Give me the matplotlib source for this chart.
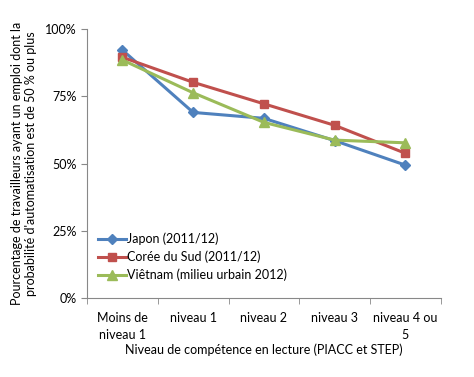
import numpy as np
import matplotlib
matplotlib.use("Agg")
import matplotlib.pyplot as plt
from matplotlib.ticker import PercentFormatter, FixedLocator

plt.rcParams['font.family'] = ['Lato', 'DejaVu Sans']

categories = ["Moins de\nniveau 1", "niveau 1", "niveau 2", "niveau 3", "niveau 4 ou\n5"]
japon = [0.922, 0.690, 0.668, 0.585, 0.494]
coree = [0.895, 0.802, 0.722, 0.642, 0.538]
vietnam = [0.885, 0.763, 0.653, 0.587, 0.577]

fig = plt.figure(figsize=(4.74, 3.77), dpi=100)
ax = fig.add_axes([0.1835, 0.2095, 0.7465, 0.7135])

x = np.arange(len(categories))
ax.plot(x, japon, '-D', color="#4F81BD", lw=2.2, ms=5, label="Japon (2011/12)")
ax.plot(x, coree, '-s', color="#C0504D", lw=2.2, ms=6, label="Corée du Sud (2011/12)")
ax.plot(x, vietnam, '-^', color="#9BBB59", lw=2.2, ms=6.5, label="Viêtnam (milieu urbain 2012)")

ax.set_xlim(-0.5, len(categories) - 0.5)
ax.set_ylim(0, 1)
ax.set_yticks([0, 0.25, 0.5, 0.75, 1.0])
ax.yaxis.set_major_formatter(PercentFormatter(1.0, decimals=0))
ax.set_xticks(x)
ax.set_xticklabels(categories, fontsize=9, linespacing=1.5)
ax.xaxis.set_minor_locator(FixedLocator(np.arange(-0.5, len(categories), 1.0)))
ax.tick_params(axis='x', which='major', length=0, pad=10)
ax.tick_params(axis='x', which='minor', length=4, color='#888888')
ax.tick_params(axis='y', length=4, color='#888888', labelsize=9)

for s in ['top', 'right']:
    ax.spines[s].set_visible(False)
for s in ['left', 'bottom']:
    ax.spines[s].set_color('#888888')

ax.set_xlabel("Niveau de compétence en lecture (PIACC et STEP)", fontsize=9, labelpad=2)
ax.set_ylabel("Pourcentage de travailleurs ayant un emploi dont la\nprobabilité d'automatisation est de 50 % ou plus",
              fontsize=9, labelpad=6)

ax.legend(loc='lower left', bbox_to_anchor=(0.0, 0.02), frameon=False, fontsize=9,
          handlelength=2.2, handletextpad=0.1, labelspacing=0.45)

fig.savefig("out.png", dpi=100)
